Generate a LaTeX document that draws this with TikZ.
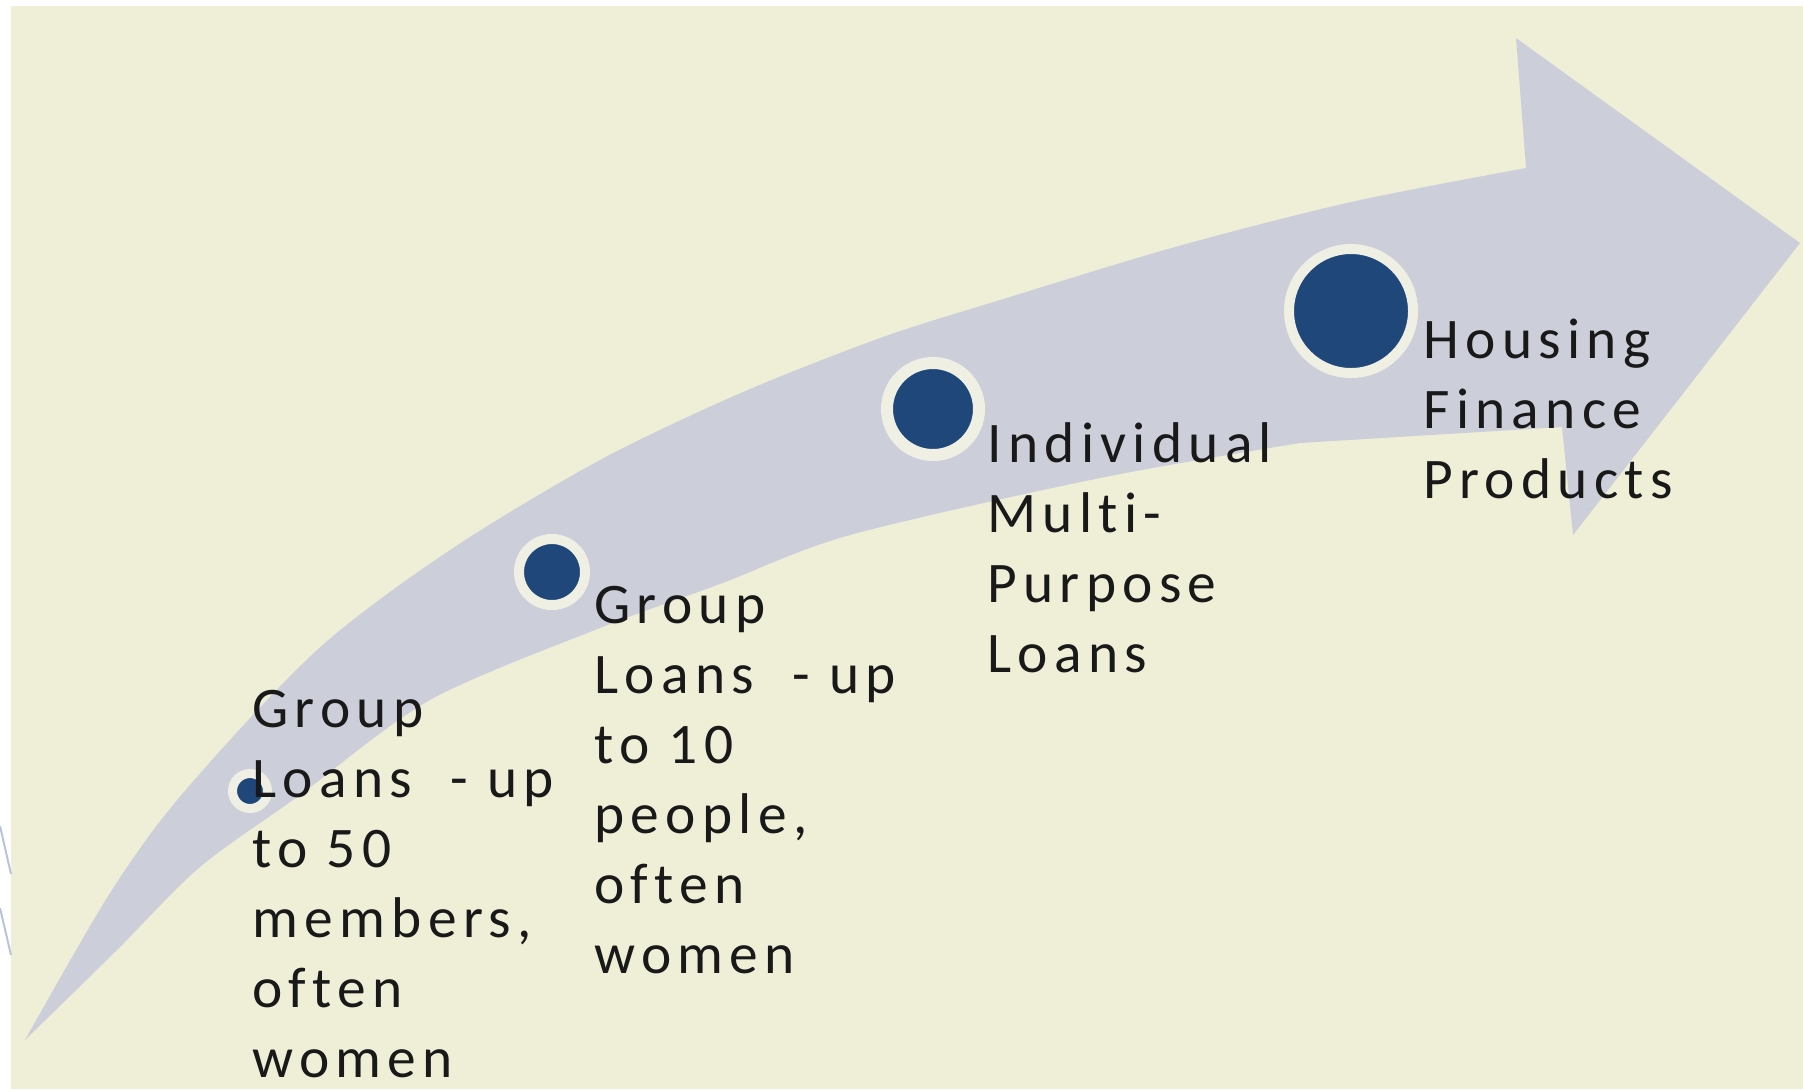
\documentclass[tikz,border=0pt]{standalone}
\usepackage{fontspec}
\setmainfont{Carlito}[LetterSpace=11,Ligatures=CommonOff]
\usepackage{xcolor,tikz}
\definecolor{bgbeige}{RGB}{239,239,216}
\definecolor{arrowgray}{RGB}{204,207,218}
\definecolor{dotblue}{RGB}{31,71,122}
\definecolor{ringcream}{RGB}{240,239,228}
\definecolor{edgeblue}{RGB}{184,196,220}

\begin{document}
\begin{tikzpicture}[x=0.5pt,y=-0.5pt,
  dot/.style={circle,fill=dotblue,draw=ringcream,inner sep=0pt},
  steplabel/.style={anchor=base west,inner sep=0pt,align=left,text=black!90,
    font=\fontsize{28.7}{35}\selectfont}]
\useasboundingbox (0,0) rectangle (1803,1089);
\fill[bgbeige] (11,6) rectangle (1803,1089);
\draw[edgeblue,line width=1pt] (0,826)--(11,874) (0,908)--(11,955);
\fill[arrowgray] plot[smooth,tension=0.5] coordinates {(25,1040) (110,893) (183,793) (317,650) (450,550) (600,460) (743,392) (883,337) (1000,300) (1175,247) (1351,202) (1526,168)}
  -- (1516,38) -- (1800,243) -- (1573,535) -- (1562,427)
  -- plot[smooth,tension=0.5] coordinates {(1300,443) (1100,478) (850,535) (720,584) (600,628) (430,700) (300,795) (200,867) (117,950) (25,1040)} -- cycle;
\node[dot,line width=4.5pt,minimum size=17.5pt] (d1) at (250,791) {};
\node[dot,line width=5pt,minimum size=33pt] (d2) at (552,572) {};
\node[dot,line width=6pt,minimum size=46pt] (d3) at (933,409) {};
\node[dot,line width=5pt,minimum size=62pt] (d4) at (1351,311) {};
\node[steplabel] (t1) at (252,1077) {Group\\Loans \ - up\\to 50\\members,\\often\\women};
\node[steplabel] (t2) at (594,973) {Group\\Loans \ - up\\to 10\\people,\\often\\women};
\node[steplabel] (t3) at (987,672) {Individual\\Multi-\\Purpose\\Loans};
\node[steplabel] (t4) at (1423,498) {Housing\\Finance\\Products};
\end{tikzpicture}
\end{document}
